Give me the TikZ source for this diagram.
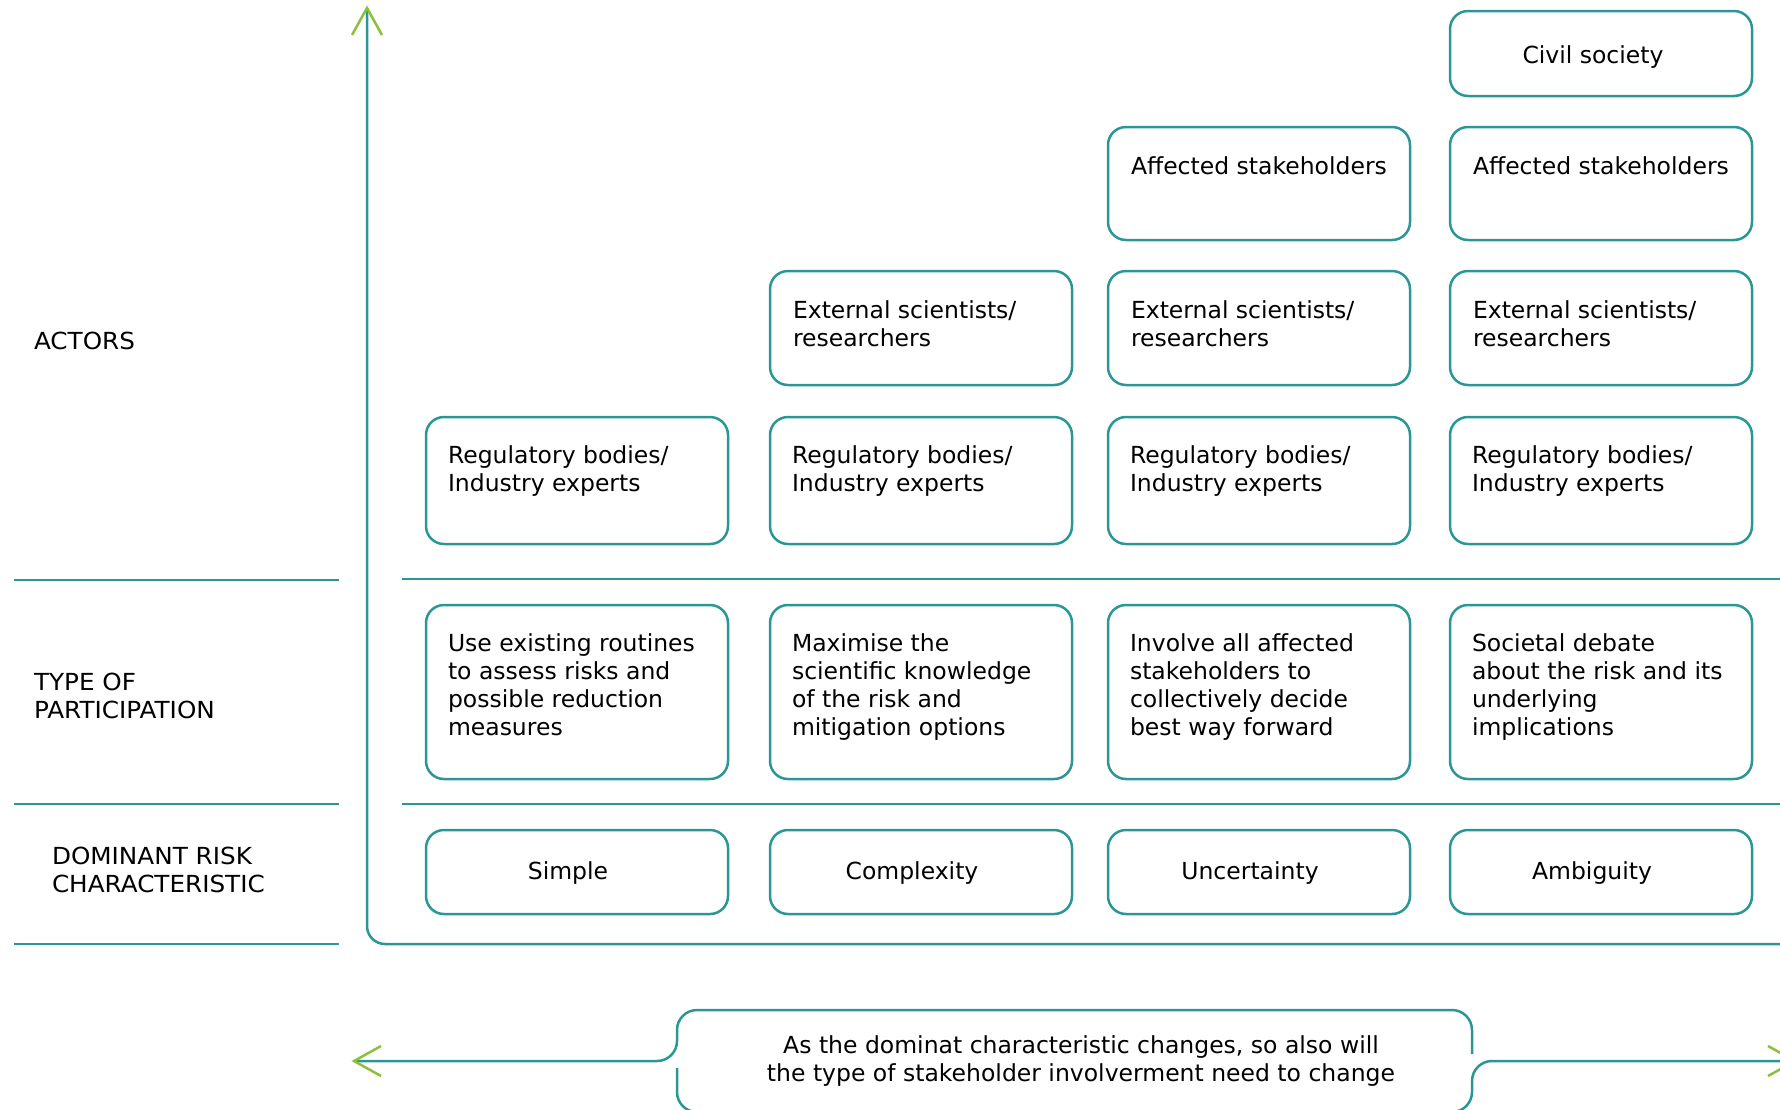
\documentclass[tikz,border=0pt]{standalone}
\usepackage{fontspec}
\setmainfont{DejaVu Sans}
\newfontfamily\labelfont[FakeStretch=1.05]{DejaVu Sans}
\usetikzlibrary{calc}
\definecolor{eeateal}{RGB}{43,150,150}
\definecolor{eeagreen}{RGB}{141,190,60}
% multi-line text whose baseline is that of its first line
\newcommand\leftlines[1]{\parbox[t]{300pt}{\raggedright #1}}
\newcommand\midlines[1]{\parbox[t]{760pt}{\centering #1}}

\begin{document}
\begin{tikzpicture}[x=1pt,y=-1pt,
  every node/.style={font=\fontsize{23.5}{28}\selectfont, inner sep=0pt, outer sep=0pt},
  card/.style={draw=eeateal, line width=2.5pt, rounded corners=18pt, anchor=north west,
    minimum width=302pt},
  cardtext/.style={anchor=base west},
  ctrtext/.style={anchor=base},
  rowlabel/.style={anchor=base west, font=\labelfont\fontsize{23.5}{28}\selectfont},
  rule/.style={draw=eeateal, line width=2.5pt},
  tip/.style={draw=eeagreen, line width=2.5pt},
]
\useasboundingbox (0,0) rectangle (1780,1109);

% ---- row labels and separators on the left
\node[rowlabel] (lact) at (34,349) {ACTORS};
\node[rowlabel] (ltype) at (34,690) {\leftlines{TYPE OF\\PARTICIPATION}};
\node[rowlabel] (ldom) at (52,864) {\leftlines{DOMINANT RISK\\CHARACTERISTIC}};
\draw[rule] (14,580) -- (339,580);
\draw[rule] (14,804) -- (339,804);
\draw[rule] (14,944) -- (339,944);

% ---- separators on the right
\draw[rule] (402,579) -- (1800,579);
\draw[rule] (402,804) -- (1800,804);

% ---- axes
\coordinate (ytip) at (367,8);
\coordinate (origin) at (367,944);
\coordinate (xend) at (1800,944);
\draw[rule, rounded corners=18pt] (ytip) -- (origin) -- (xend);
\draw[tip] ($(ytip)+(-15,27)$) -- (ytip) -- ($(ytip)+(15,27)$);

% ---- actors
\node[card, minimum height=85pt] (civ4) at (1450,11) {};
\node[ctrtext] (civ4t) at ($(civ4.center)+(-8,9.5)$) {Civil society};

\foreach \n/\x in {3/1108,4/1450}{
  \node[card, minimum height=113pt] (aff\n) at (\x,127) {};
  \node[cardtext] (aff\n t) at ($(aff\n.north west)+(23,47)$) {Affected stakeholders};
}
\foreach \n/\x in {2/770,3/1108,4/1450}{
  \node[card, minimum height=114pt] (ext\n) at (\x,271) {};
  \node[cardtext] (ext\n t) at ($(ext\n.north west)+(23,47)$)
    {\leftlines{External scientists/\\researchers}};
}
\foreach \n/\x in {1/426,2/770,3/1108,4/1450}{
  \node[card, minimum height=127pt] (reg\n) at (\x,417) {};
  \node[cardtext] (reg\n t) at ($(reg\n.north west)+(22,46)$)
    {\leftlines{Regulatory bodies/\\Industry experts}};
}

% ---- type of participation
\foreach \n/\x/\txt in {
  1/426/{Use existing routines\\to assess risks and\\possible reduction\\measures},
  2/770/{Maximise the\\scientific knowledge\\of the risk and\\mitigation options},
  3/1108/{Involve all affected\\stakeholders to\\collectively decide\\best way forward},
  4/1450/{Societal debate\\about the risk and its\\underlying\\implications}}{
  \node[card, minimum height=174pt] (typ\n) at (\x,605) {};
  \node[cardtext] (typ\n t) at ($(typ\n.north west)+(22,46)$) {\leftlines{\txt}};
}

% ---- dominant risk characteristic
\foreach \n/\x/\txt in {1/426/Simple,2/770/Complexity,3/1108/Uncertainty,4/1450/Ambiguity}{
  \node[card, minimum height=84pt] (dom\n) at (\x,830) {};
  \node[ctrtext] (dom\n t) at ($(dom\n.center)+(-9,7)$) {\txt};
}

% ---- note with arrows to both sides
\node[ctrtext] (note) at (1081,1053)
  {\midlines{As the dominat characteristic changes, so also will\\the type of stakeholder involverment need to change}};
\coordinate (lt) at (354,1061);
\coordinate (rt) at (1795,1061);
\draw[rule, rounded corners=20pt] (lt) -- (677,1061) -- (677,1010) -- (1472,1010) -- (1472,1054);
\draw[rule, rounded corners=20pt] (rt) -- (1472,1061) -- (1472,1112) -- (677,1112) -- (677,1068);
\draw[tip] ($(lt)+(27,-15)$) -- (lt) -- ($(lt)+(27,15)$);
\draw[tip] ($(rt)+(-27,-15)$) -- (rt) -- ($(rt)+(-27,15)$);
\end{tikzpicture}
\end{document}
